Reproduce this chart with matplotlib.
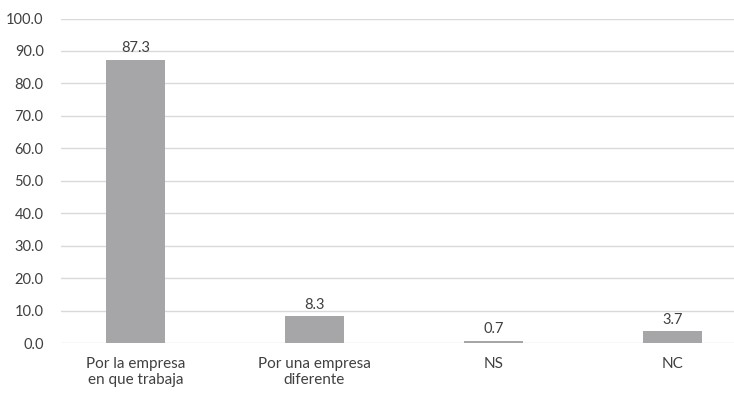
import matplotlib

matplotlib.use("Agg")
import matplotlib.pyplot as plt
import numpy as np

categories = ["Por la empresa\nen que trabaja", "Por una empresa\ndiferente", "NS", "NC"]
values = [87.3, 8.3, 0.7, 3.7]
yticks = [0, 10, 20, 30, 40, 50, 60, 70, 80, 90, 100]

BAR = "#a6a6a9"
GRID = "#d9d9d9"
TEXT = "#404040"

plt.rcParams.update({"font.family": ["Lato", "DejaVu Sans"]})

fig = plt.figure(figsize=(7.34, 3.93), dpi=100)
ax = fig.add_axes([61 / 734, 49.7 / 393, 673 / 734, 324.8 / 393])

x = np.arange(len(categories))
bars = ax.bar(x, values, width=0.33, color=BAR, zorder=3)
for xi, v in zip(x, values):
    ax.annotate(f"{v:.1f}", (xi, v), xytext=(0, 3.3), textcoords="offset points",
                ha="center", va="bottom", fontsize=10.5, color=TEXT)

ax.set_ylim(0, 100)
ax.set_xlim(-0.416, 3.344)
ax.set_yticks(yticks)
ax.set_yticklabels([f"{t:.1f}" for t in yticks])
ax.set_xticks(x)
ax.set_xticklabels(categories, linespacing=1.15)
ax.yaxis.grid(True, color=GRID, linewidth=1.0, zorder=0)
ax.tick_params(axis="y", length=0, pad=12.5, labelsize=10.5, labelcolor=TEXT)
ax.tick_params(axis="x", length=0, pad=10, labelsize=11, labelcolor=TEXT)
for s in ax.spines.values():
    s.set_visible(False)

fig.savefig("out.png", dpi=100, facecolor="white")
